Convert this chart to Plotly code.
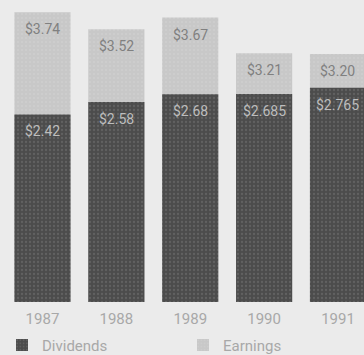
import plotly.graph_objects as go

years = ["1987", "1988", "1989", "1990", "1991"]
earnings = [3.74, 3.52, 3.67, 3.21, 3.20]
dividends = [2.42, 2.58, 2.68, 2.685, 2.765]

def money(v):
    s = f"{v:.3f}".rstrip("0")
    if len(s.split(".")[1]) < 2:
        s = f"{v:.2f}"
    return "$" + s

FONT = "Roboto, Liberation Sans, sans-serif"
BG = "#ebebeb"
BAR_W = 0.76

fig = go.Figure()

fig.add_trace(go.Bar(
    x=years, y=earnings, name="Earnings",
    width=BAR_W,
    marker=dict(color="#cbcbcb", line=dict(width=0),
                pattern=dict(shape=".", fgcolor="#dadada", bgcolor="#c8c8c8",
                             size=4, solidity=0.15)),
))

fig.add_trace(go.Bar(
    x=years, y=dividends, name="Dividends",
    width=BAR_W,
    marker=dict(color="#505050", line=dict(width=0),
                pattern=dict(shape=".", fgcolor="#767676", bgcolor="#4c4c4c",
                             size=4, solidity=0.25)),
))

# value labels sit just inside the top of each bar
for i, v in enumerate(earnings):
    fig.add_annotation(x=i, y=v, xref="x", yref="y", text=money(v),
                       showarrow=False, yanchor="top", yshift=-7,
                       font=dict(family=FONT, size=14, color="#808080"))
for i, v in enumerate(dividends):
    fig.add_annotation(x=i, y=v, xref="x", yref="y", text=money(v),
                       showarrow=False, yanchor="top", yshift=-7,
                       font=dict(family=FONT, size=14, color="#bdbdbd"))

fig.update_layout(
    width=364, height=355,
    margin=dict(l=0, r=0, t=0, b=53),
    barmode="overlay",
    paper_bgcolor=BG, plot_bgcolor=BG,
    font=dict(family=FONT, color="#a8a8a8"),
    xaxis=dict(type="category", range=[-0.575, 4.352], showgrid=False,
               zeroline=False, showline=False, ticks="", ticklabelstandoff=6,
               tickfont=dict(size=15, color="#a8a8a8")),
    yaxis=dict(range=[0, 3.897], visible=False),
    legend=dict(orientation="h", traceorder="reversed",
                x=0.02, xanchor="left", yref="container", y=0.074,
                yanchor="top", entrywidth=136, entrywidthmode="pixels",
                font=dict(family=FONT, size=15, color="#a8a8a8"),
                bgcolor="rgba(0,0,0,0)"),
)

fig.write_html("out.html")
